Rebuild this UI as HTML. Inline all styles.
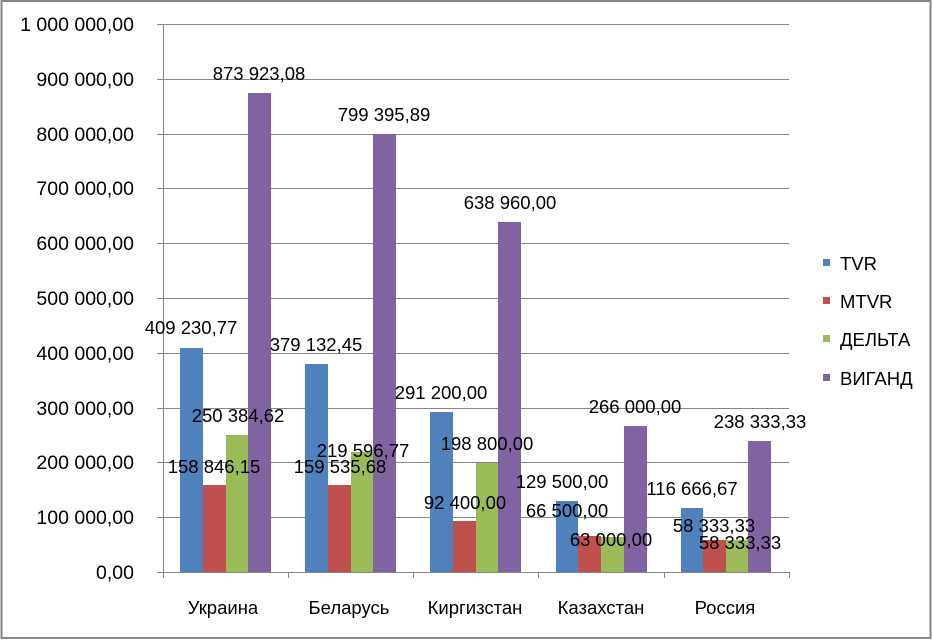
<!DOCTYPE html>
<html><head><meta charset="utf-8"><style>
html,body{margin:0;padding:0;background:#fff}
svg{display:block}
text{font-family:"Liberation Sans",sans-serif;font-size:18.5px;fill:#000}
.t{font-size:19.5px}
</style></head><body>
<svg width="933" height="640" viewBox="0 0 933 640" xmlns="http://www.w3.org/2000/svg">
<rect x="1.5" y="1" width="929" height="637" fill="#fff" stroke="#868686" stroke-width="2"/>
<g stroke="#868686" stroke-width="1">
<line x1="157" y1="24.5" x2="789" y2="24.5"/>
<line x1="157" y1="79.5" x2="789" y2="79.5"/>
<line x1="157" y1="134.5" x2="789" y2="134.5"/>
<line x1="157" y1="188.5" x2="789" y2="188.5"/>
<line x1="157" y1="243.5" x2="789" y2="243.5"/>
<line x1="157" y1="298.5" x2="789" y2="298.5"/>
<line x1="157" y1="353.5" x2="789" y2="353.5"/>
<line x1="157" y1="408.5" x2="789" y2="408.5"/>
<line x1="157" y1="462.5" x2="789" y2="462.5"/>
<line x1="157" y1="517.5" x2="789" y2="517.5"/>
<line x1="157" y1="572.5" x2="789" y2="572.5"/>
<line x1="163.5" y1="24" x2="163.5" y2="578"/>
<line x1="288.5" y1="572" x2="288.5" y2="578"/>
<line x1="413.5" y1="572" x2="413.5" y2="578"/>
<line x1="538.5" y1="572" x2="538.5" y2="578"/>
<line x1="664.5" y1="572" x2="664.5" y2="578"/>
<line x1="789.5" y1="572" x2="789.5" y2="578"/>
</g>
<g text-anchor="end" class="t">
<text class="t" x="134" y="31">1 000 000,00</text>
<text class="t" x="134" y="86">900 000,00</text>
<text class="t" x="134" y="141">800 000,00</text>
<text class="t" x="134" y="195">700 000,00</text>
<text class="t" x="134" y="250">600 000,00</text>
<text class="t" x="134" y="305">500 000,00</text>
<text class="t" x="134" y="360">400 000,00</text>
<text class="t" x="134" y="415">300 000,00</text>
<text class="t" x="134" y="469">200 000,00</text>
<text class="t" x="134" y="524">100 000,00</text>
<text class="t" x="134" y="579">0,00</text>
</g>
<g>
<rect x="180" y="348" width="23" height="224" fill="#4f81bd"/>
<rect x="203" y="485" width="23" height="87" fill="#c0504d"/>
<rect x="226" y="435" width="22" height="137" fill="#9bbb59"/>
<rect x="248" y="93" width="23" height="479" fill="#8064a2"/>

<rect x="305" y="364" width="23" height="208" fill="#4f81bd"/>
<rect x="328" y="485" width="23" height="87" fill="#c0504d"/>
<rect x="351" y="452" width="22" height="120" fill="#9bbb59"/>
<rect x="373" y="134" width="23" height="438" fill="#8064a2"/>

<rect x="430" y="412" width="23" height="160" fill="#4f81bd"/>
<rect x="453" y="521" width="23" height="51" fill="#c0504d"/>
<rect x="476" y="463" width="22" height="109" fill="#9bbb59"/>
<rect x="498" y="222" width="23" height="350" fill="#8064a2"/>

<rect x="556" y="501" width="22" height="71" fill="#4f81bd"/>
<rect x="578" y="536" width="23" height="36" fill="#c0504d"/>
<rect x="601" y="537" width="23" height="35" fill="#9bbb59"/>
<rect x="624" y="426" width="23" height="146" fill="#8064a2"/>

<rect x="681" y="508" width="22" height="64" fill="#4f81bd"/>
<rect x="703" y="540" width="23" height="32" fill="#c0504d"/>
<rect x="726" y="540" width="22" height="32" fill="#9bbb59"/>
<rect x="748" y="441" width="23" height="131" fill="#8064a2"/>
</g>
<g text-anchor="middle">
<text x="191" y="334">409 230,77</text>
<text x="214" y="473">158 846,15</text>
<text x="238" y="422">250 384,62</text>
<text x="259" y="80">873 923,08</text>

<text x="316" y="351">379 132,45</text>
<text x="340" y="473">159 535,68</text>
<text x="363" y="457">219 596,77</text>
<text x="384" y="121">799 395,89</text>

<text x="441" y="399">291 200,00</text>
<text x="465" y="509">92 400,00</text>
<text x="487" y="450">198 800,00</text>
<text x="510" y="209">638 960,00</text>

<text x="562" y="488">129 500,00</text>
<text x="567" y="517">66 500,00</text>
<text x="611" y="546">63 000,00</text>
<text x="635" y="413">266 000,00</text>

<text x="692" y="495">116 666,67</text>
<text x="714" y="532">58 333,33</text>
<text x="740" y="549">58 333,33</text>
<text x="760" y="428">238 333,33</text>
</g>
<g text-anchor="middle">
<text x="223" y="614">Украина</text>
<text x="349" y="614">Беларусь</text>
<text x="475" y="614">Киргизстан</text>
<text x="601" y="614">Казахстан</text>
<text x="725" y="614">Россия</text>
</g>
<rect x="823" y="259" width="7" height="7" fill="#4f81bd"/>
<rect x="823" y="297" width="7" height="7" fill="#c0504d"/>
<rect x="823" y="335" width="7" height="7" fill="#9bbb59"/>
<rect x="823" y="374" width="7" height="7" fill="#8064a2"/>
<text x="840" y="270">TVR</text>
<text x="840" y="308">MTVR</text>
<text x="840" y="346">ДЕЛЬТА</text>
<text x="840" y="385">ВИГАНД</text>
</svg>
</body></html>
